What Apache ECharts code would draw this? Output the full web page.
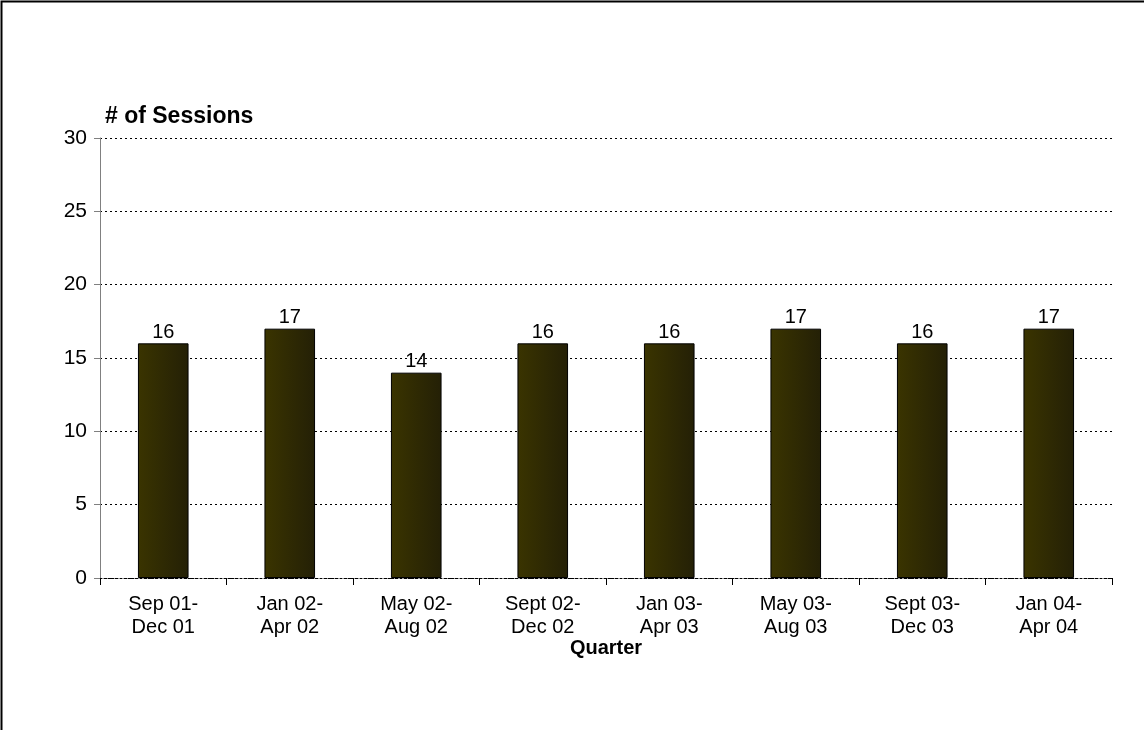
<!DOCTYPE html>
<html>
<head>
<meta charset="utf-8">
<script src="https://cdn.jsdelivr.net/npm/echarts@6/dist/echarts.min.js"></script>
<style>
  html, body { margin: 0; padding: 0; background: #fff; }
  #chart { width: 1144px; height: 730px; }
</style>
</head>
<body>
<div id="chart"></div>
<script>
// Sessions held per quarter
const quarters = [
  'Sep 01-\nDec 01', 'Jan 02-\nApr 02', 'May 02-\nAug 02', 'Sept 02-\nDec 02',
  'Jan 03-\nApr 03', 'May 03-\nAug 03', 'Sept 03-\nDec 03', 'Jan 04-\nApr 04'
];
const sessions = [16, 17, 14, 16, 16, 17, 16, 17];
const yTicks = [0, 5, 10, 15, 20, 25, 30];

const FONT = '"Liberation Sans", Arial, sans-serif';
const chart = echarts.init(document.getElementById('chart'));

chart.setOption({
  animation: false,
  backgroundColor: '#ffffff',
  graphic: [{
    type: 'rect',
    shape: { x: 1.5, y: 1.5, width: 1160, height: 760 },
    style: { fill: 'none', stroke: '#000', lineWidth: 2 },
    silent: true
  }],
  grid: { left: 100, right: 32, top: 138, bottom: 152 },
  xAxis: {
    type: 'category',
    data: quarters,
    name: 'Quarter',
    nameLocation: 'middle',
    nameGap: 60,
    nameMoveOverlap: false,
    nameTextStyle: { fontFamily: FONT, fontSize: 20, fontWeight: 'bold', color: '#000' },
    axisLine: { lineStyle: { color: '#000', width: 1, type: [2, 2] } },
    axisTick: { show: true, length: 7, lineStyle: { color: '#000' } },
    axisLabel: { fontFamily: FONT, fontSize: 20, color: '#000', margin: 15, lineHeight: 23, interval: 0 }
  },
  yAxis: {
    type: 'value',
    min: yTicks[0],
    max: yTicks[yTicks.length - 1],
    interval: yTicks[1] - yTicks[0],
    name: '# of Sessions',
    nameLocation: 'end',
    nameGap: 10,
    nameMoveOverlap: false,
    nameTextStyle: { fontFamily: FONT, fontSize: 23, fontWeight: 'bold', color: '#000', align: 'left', verticalAlign: 'bottom', padding: [0, 0, 0, 5] },
    axisLine: { show: true, lineStyle: { color: '#808080', width: 1 } },
    axisTick: { show: true, length: 6, lineStyle: { color: '#808080' } },
    axisLabel: { fontFamily: FONT, fontSize: 21, color: '#000', margin: 13 },
    splitLine: { show: true, lineStyle: { color: '#000', width: 1, type: [2, 3] } }
  },
  series: [{
    type: 'bar',
    data: sessions,
    barWidth: '40%',
    itemStyle: {
      color: new echarts.graphic.LinearGradient(0, 0, 1, 0, [
        { offset: 0, color: '#3a3400' },
        { offset: 1, color: '#242006' }
      ]),
      borderColor: '#000',
      borderWidth: 1
    },
    label: { show: true, position: 'top', distance: 1, fontFamily: FONT, fontSize: 20, color: '#000' }
  }]
});
</script>
</body>
</html>
